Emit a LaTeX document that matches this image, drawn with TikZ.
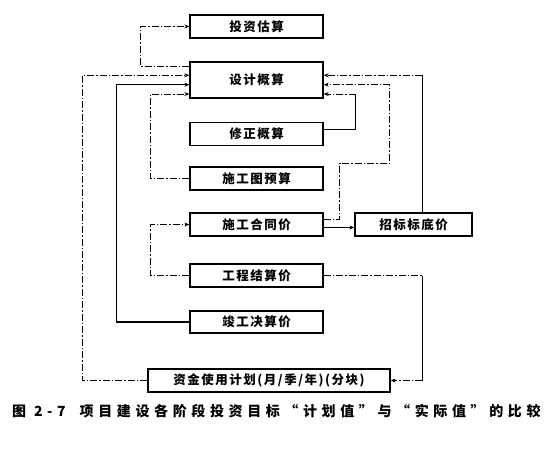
\documentclass[tikz,border=0pt]{standalone}
\usepackage{fontspec}
\newfontfamily\cjk{Noto Sans CJK SC}
\usetikzlibrary{arrows.meta,calc}
\begin{document}
\begin{tikzpicture}[x=1pt,y=-1pt,
  box/.style={draw,line width=1.3pt,minimum width=133pt,minimum height=23pt,inner sep=0pt,
    font=\cjk\bfseries\fontsize{12.5}{12.5}\selectfont\addfontfeature{LetterSpace=12}},
  dd/.style={line width=0.8pt,dash pattern=on 7pt off 2pt on 1.5pt off 2pt},
  sl/.style={line width=0.8pt},
  arr/.style={-{Stealth[length=5pt,width=4pt]}}]
\useasboundingbox (0,0) rectangle (552,448);
% boxes
\node[box] (tz) at (256.5,26.5) {投资估算};
\node[box,minimum height=36pt] (sj) at (256.5,80) {设计概算};
\node[box] (xz) at (256.5,134) {修正概算};
\node[box] (sgt) at (256.5,178.5) {施工图预算};
\node[box] (ht) at (256.5,224.5) {施工合同价};
\node[box,minimum width=117pt] (zb) at (413.5,224.5) {招标标底价};
\node[box] (js) at (256.5,275.5) {工程结算价};
\node[box,minimum height=22pt] (jg) at (256.5,322) {竣工决算价};
\node[box,minimum width=242pt] (zj) at (269,380.5) {资金使用计划(月/季/年)(分块)};
% left connectors
\draw[dd,arr] ($(sj.west)+(0,-14)$) -| ($(tz.west)+(-49,0)$) -- (tz.west);
\draw[dd,arr] (zj.west) -| ($(sj.west)+(-107,-4.7)$) -- ($(sj.west)+(0,-4.7)$);
\draw[sl,arr,line width=1.1pt] (jg.west) -| ($(sj.west)+(-73,4.7)$) -- ($(sj.west)+(0,4.7)$);
\draw[dd,arr] (sgt.west) -| ($(sj.west)+(-39,14)$) -- ($(sj.west)+(0,14)$);
\draw[dd,arr] (js.west) -| ($(ht.west)+(-39,0)$) -- (ht.west);
% right connectors
\coordinate (s1) at ($(sj.east)+(0,-4.7)$);
\coordinate (s2) at ($(sj.east)+(0,4.7)$);
\coordinate (s3) at ($(sj.east)+(0,14)$);
\coordinate (z1) at ($(zb.north)+(8.5,0)$);
\coordinate (k1) at (z1 |- s1);
\draw[sl] (z1) -- (k1);
\draw[dd,arr] (k1) -- (s1);
\draw[dd,arr] ($(ht.east)+(0,-5)$) -| ++(16,-56.5) -| ($(s2)+(66,0)$) -- (s2);
\coordinate (k3) at ($(s3)+(32,0)$);
\draw[sl] ($(xz.east)+(0,-5)$) -| (k3);
\draw[dd,arr] (k3) -- (s3);
\draw[sl,arr] ($(ht.east)+(0,3)$) -- ($(zb.west)+(0,3)$);
\coordinate (k5) at (z1 |- js.east);
\coordinate (k6) at (z1 |- zj.east);
\draw[dd] (js.east) -- (k5);
\draw[sl] (k5) -- (k6);
\draw[dd,arr] (k6) -- (zj.east);
% caption
\node[anchor=west,inner sep=0pt,font=\cjk\bfseries\fontsize{14}{14}\selectfont\addfontfeature{LetterSpace=33}] (cap) at (12,411) {图 2-7\hspace{1em}项目建设各阶段投资目标“计划值”与“实际值”的比较};
\end{tikzpicture}
\end{document}
